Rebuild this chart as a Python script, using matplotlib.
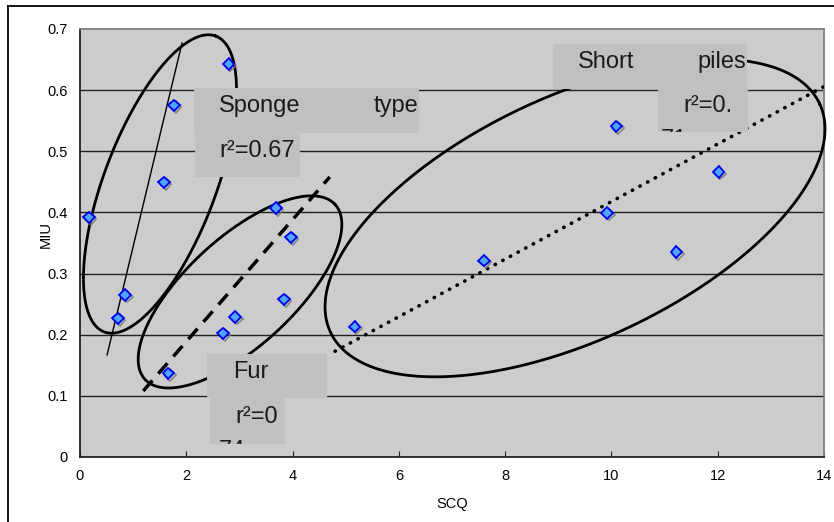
import matplotlib
matplotlib.use("Agg")
import matplotlib.pyplot as plt
import matplotlib.patheffects as pe
from matplotlib.patches import Rectangle
from matplotlib.lines import Line2D
from matplotlib.transforms import Bbox, TransformedBbox
import numpy as np

plt.rcParams['font.family'] = ['Liberation Sans', 'DejaVu Sans']

# measured points (SCQ, MIU)
scq = [0.17, 0.715, 0.85, 1.58, 1.77, 2.80, 1.66, 2.69, 2.92, 3.69, 3.84, 3.97,
       5.17, 7.60, 9.92, 10.09, 11.22, 12.02]
miu = [0.392, 0.227, 0.265, 0.449, 0.575, 0.643, 0.137, 0.202, 0.229, 0.407,
       0.258, 0.359, 0.213, 0.321, 0.399, 0.541, 0.335, 0.466]

# hand-drawn trend lines: (x0, y0, x1, y1)
sponge_line = [0.51, 0.167, 1.92, 0.677]
fur_line = [1.19, 0.108, 4.70, 0.458]
short_line = [4.80, 0.173, 13.98, 0.605]

# ellipses: center, major semi-axis vector, minor semi-axis vector (data units)
sponge_ell = [(1.505, 0.4465), (1.050, 0.2419), (0.986, -0.0324)]
fur_ell = [(3.011, 0.270), (1.788, 0.1431), (0.689, -0.0649)]
short_ell = [(9.315, 0.391), (4.603, 0.1868), (0.971, -0.1807)]

fig = plt.figure(figsize=(8.34, 5.22), dpi=100)
ax = fig.add_axes([80/834, 1-457/522, 744/834, 428/522])
ax.set_facecolor('#cccccc')
ax.set_xlim(0, 14)
ax.set_ylim(0, 0.7)
ax.set_xticks(range(0, 15, 2))
ax.set_yticks(np.arange(0, 0.71, 0.1))
ax.set_yticklabels(['0', '0.1', '0.2', '0.3', '0.4', '0.5', '0.6', '0.7'])
ax.tick_params(axis='x', direction='in', length=4, pad=9, labelsize=10.5, color='#222222')
ax.tick_params(axis='y', length=0, pad=9, labelsize=10.5)
ax.yaxis.grid(True, color='#222222', lw=1)
ax.get_ygridlines()[-1].set_visible(False)
ax.get_ygridlines()[0].set_visible(False)
for s in ['left', 'bottom']:
    ax.spines[s].set_color('#222222')
    ax.spines[s].set_linewidth(1.3)
for s in ['top', 'right']:
    ax.spines[s].set_color('#808080')
    ax.spines[s].set_linewidth(1.3)
ax.set_xlabel('SCQ', fontsize=10.5, labelpad=10)
ax.set_ylabel('MIU', fontsize=10.5)
ax.yaxis.set_label_coords(-0.036, 0.52)

# ellipses
t = np.linspace(0, 2*np.pi, 400)
for c, a, b in [sponge_ell, fur_ell, short_ell]:
    ex = c[0] + a[0]*np.cos(t) + b[0]*np.sin(t)
    ey = c[1] + a[1]*np.cos(t) + b[1]*np.sin(t)
    ax.plot(ex, ey, color='black', lw=2, zorder=3, clip_on=False)

# trend lines
ax.plot(sponge_line[0::2], sponge_line[1::2], color='black', lw=1, zorder=3)
ax.plot(fur_line[0::2], fur_line[1::2], color='black', lw=2.5, ls=(0, (4, 2.6)), zorder=3)
ax.plot(short_line[0::2], short_line[1::2], color='black', lw=2.6, ls=(0, (0.1, 2.3)),
        dash_capstyle='round', zorder=3)

# data points
ax.plot(scq, miu, ls='none', marker='D', ms=5.8, mfc='#4da6ff', mec='#0000ee', mew=1.3,
        zorder=4, path_effects=[pe.SimpleLineShadow(offset=(1.2, -1.2), shadow_color='#777777', alpha=0.8),
                                pe.Normal()])

# text boxes
box_col = '#c0c0c0'
boxes = [(2.145, 0.530, 4.235, 0.0735), (2.164, 0.458, 1.976, 0.072),
         (8.90, 0.6019, 3.65, 0.0736), (10.88, 0.5316, 1.69, 0.0704),
         (2.39, 0.0965, 2.258, 0.072), (2.446, 0.0213, 1.412, 0.0752)]
for x, y, w, h in boxes:
    ax.add_patch(Rectangle((x, y), w, h, facecolor=box_col, edgecolor='none', zorder=5))

fs = 17
tc = '#1a1a1a'
ax.text(2.616, 0.564, 'Sponge', fontsize=fs, color=tc, zorder=6)
ax.text(6.36, 0.564, 'type', fontsize=fs, color=tc, ha='right', zorder=6)
ax.text(2.616, 0.4907, 'r²=0.67', fontsize=fs, color=tc, zorder=6)
ax.text(9.37, 0.636, 'Short', fontsize=fs, color=tc, zorder=6)
ax.text(12.53, 0.636, 'piles', fontsize=fs, color=tc, ha='right', zorder=6)
ax.text(11.35, 0.564, 'r²=0.', fontsize=fs, color=tc, zorder=6)
ax.text(2.879, 0.129, 'Fur', fontsize=fs, color=tc, zorder=6)
ax.text(2.917, 0.0556, 'r²=0', fontsize=fs, color=tc, zorder=6)
# clipped second lines of the wrapped labels (only their tops show)
t1 = ax.text(10.93, 0.508, '71', fontsize=fs, color=tc, zorder=6, clip_on=True)
t1.set_clip_box(TransformedBbox(Bbox([[10.88, 0.5316], [12.57, 0.62]]), ax.transData))
t2 = ax.text(2.62, 0.0005, '74', fontsize=fs, color=tc, zorder=6, clip_on=True)
t2.set_clip_box(TransformedBbox(Bbox([[2.446, 0.0213], [3.858, 0.0965]]), ax.transData))

# outer chart frame
fig.add_artist(Line2D([8/834, 8/834], [0, 1-6/522], color='black', lw=1.3))
fig.add_artist(Line2D([8/834, 1], [1-6/522, 1-6/522], color='black', lw=1.3))

fig.savefig('out.png', dpi=100)
